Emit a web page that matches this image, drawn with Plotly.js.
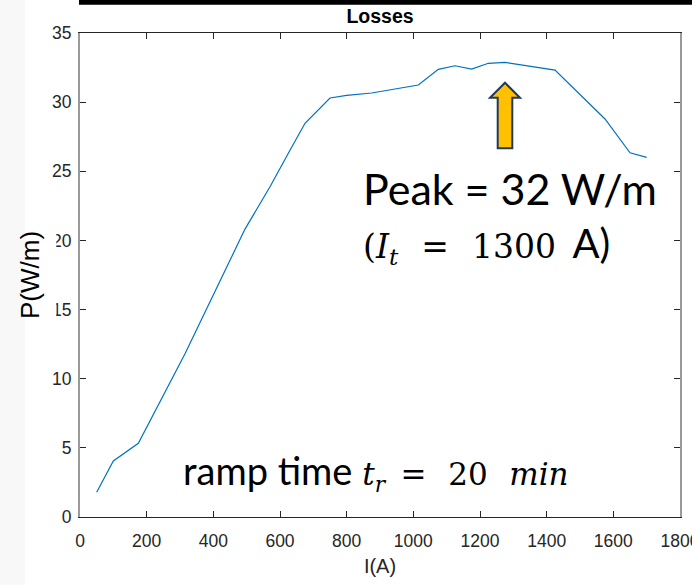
<!DOCTYPE html>
<html>
<head>
<meta charset="utf-8">
<script src="https://cdn.plot.ly/plotly-3.0.1.min.js"></script>
<style>html,body{margin:0;padding:0;background:#fff;}#chart{width:692px;height:585px;}</style>
</head>
<body>
<div id="chart"></div>
<script>
// Data
const currentA = [50, 100, 175, 315, 495, 570, 625, 675, 750, 800, 875, 1015, 1075, 1125, 1175, 1225, 1275, 1425, 1575, 1650, 1700];
const lossW = [1.79, 4.05, 5.33, 11.8, 20.82, 23.88, 26.3, 28.47, 30.3, 30.49, 30.66, 31.24, 32.37, 32.63, 32.39, 32.81, 32.88, 32.32, 28.78, 26.34, 26.01];
const xTicks = [0, 200, 400, 600, 800, 1000, 1200, 1400, 1600, 1800];
const yTicks = [0, 5, 10, 15, 20, 25, 30, 35];
const titleText = 'Losses';
const xTitle = 'I(A)';
const yTitle = 'P(W/m)';
const peakText = 'Peak = 32 W/m';

const EN = '\u2002', THIN = '\u2009';
const serif2 = 'font-family:DejaVu Serif;font-size:33px';
const serif3 = 'font-family:DejaVu Serif;font-size:31px';
const line2 = '<span style="' + serif2 + '">(<i>I</i><sub><i>t</i></sub>' + EN + THIN + '=' + EN + THIN + '1300' + EN + '</span>A)';
const line3 = 'ramp time <span style="' + serif3 + '"><i>t</i><sub><i>r</i></sub>' + EN + '=' + EN + THIN + '20' + EN + THIN + '<i>min</i></span>';

const tickFont = {family: 'Liberation Sans, Arial, sans-serif', size: 17.5, color: '#262626'};

const trace = {
  x: currentA, y: lossW, type: 'scatter', mode: 'lines',
  line: {color: '#0072BD', width: 1.2}, hoverinfo: 'skip'
};

const layout = {
  width: 692, height: 585,
  margin: {l: 80, r: 12, t: 33, b: 68, pad: 0},
  paper_bgcolor: '#ffffff', plot_bgcolor: '#ffffff',
  showlegend: false,
  title: {
    text: '<b>' + titleText + '</b>',
    font: {family: 'Liberation Sans, Arial, sans-serif', size: 19.5, color: '#000'},
    x: 0.5, xref: 'paper', y: 1 - 16.5 / 585, yref: 'container', yanchor: 'middle'
  },
  xaxis: {
    range: [0, 1800], tickvals: xTicks, ticktext: xTicks.map(String),
    ticks: 'inside', ticklen: 6, tickwidth: 1, tickcolor: '#262626',
    showline: true, linecolor: '#262626', linewidth: 1, mirror: 'ticks',
    showgrid: false, zeroline: false, tickfont: tickFont, ticklabelstandoff: 8,
    ticklabeloverflow: 'allow',
    title: {text: xTitle, font: {family: 'Liberation Sans, Arial, sans-serif', size: 20, color: '#262626'}, standoff: 8},
    fixedrange: true
  },
  yaxis: {
    range: [0, 35], tickvals: yTicks, ticktext: yTicks.map(String),
    ticks: 'inside', ticklen: 6, tickwidth: 1, tickcolor: '#262626',
    showline: true, linecolor: '#9a9a9a', linewidth: 2, mirror: 'ticks',
    showgrid: false, zeroline: false, tickfont: tickFont, ticklabelstandoff: 3,
    ticklabeloverflow: 'allow',
    title: {text: yTitle, font: {family: 'Liberation Sans, Arial, sans-serif', size: 26, color: '#000'}, standoff: 5},
    fixedrange: true
  },
  shapes: [
    // faint scan band at the far left
    {type: 'rect', xref: 'paper', yref: 'paper', x0: -0.1334, x1: -0.0917, y0: -0.14, y1: 1.07,
     fillcolor: '#f8f8f8', line: {width: 0}, layer: 'below'},
    // black bar along the top edge
    {type: 'rect', xref: 'paper', yref: 'paper', x0: -0.0017, x1: 1.03, y0: 1.0585, y1: 1.075,
     fillcolor: '#000000', line: {width: 0}, layer: 'above'},
    // white box of the overlaid axis label, partly hiding two tick labels
    {type: 'rect', xref: 'paper', yref: 'paper', x0: -0.0667, x1: -0.0395, y0: 0.386, y1: 0.618,
     fillcolor: '#ffffff', line: {width: 0}, layer: 'above'},
    // yellow arrow pointing at the peak
    {type: 'path', xref: 'x', yref: 'y', layer: 'above',
     path: 'M 1275,31.40 L 1320,30.32 L 1296.9,30.32 L 1296.9,26.66 L 1253.1,26.66 L 1253.1,30.32 L 1230,30.32 Z',
     fillcolor: '#FFC000', line: {color: '#1F3864', width: 2}}
  ],
  annotations: [
    {text: peakText, xref: 'paper', yref: 'paper', x: 0.4675, y: 0.679, xanchor: 'left', yanchor: 'middle',
     showarrow: false, font: {family: 'Lato, sans-serif', size: 43, color: '#000'}},
    {text: line2, xref: 'paper', yref: 'paper', x: 0.4675, y: 0.562, xanchor: 'left', yanchor: 'middle',
     showarrow: false, font: {family: 'Lato, sans-serif', size: 40, color: '#000'}},
    {text: line3, xref: 'paper', yref: 'paper', x: 0.168, y: 0.092, xanchor: 'left', yanchor: 'middle',
     showarrow: false, font: {family: 'Lato, sans-serif', size: 38, color: '#000'}}
  ]
};

Plotly.newPlot('chart', [trace], layout, {displayModeBar: false, staticPlot: true});
</script>
</body>
</html>
